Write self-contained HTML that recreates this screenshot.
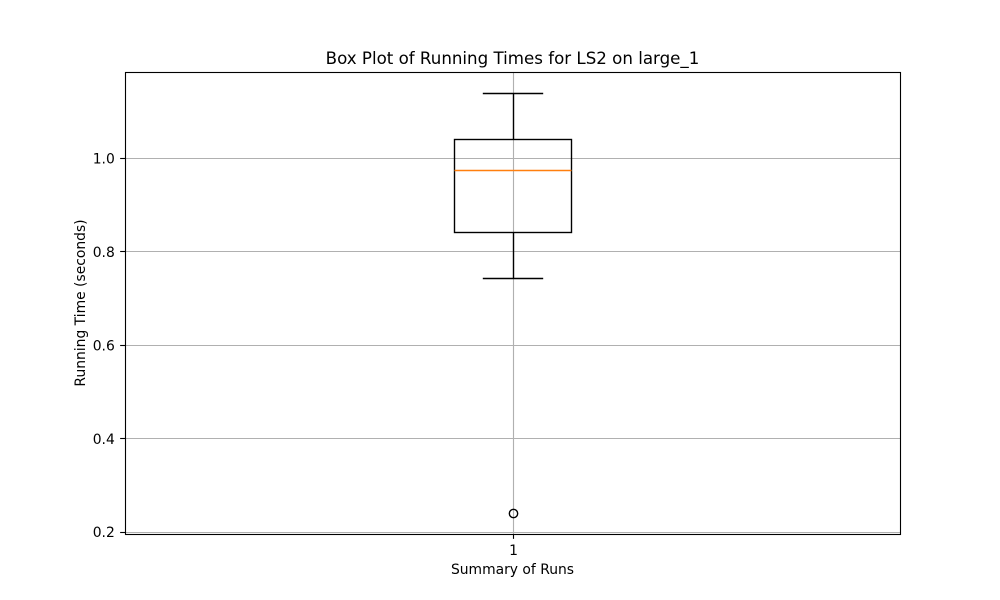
<!DOCTYPE html>
<html>
<head>
<meta charset="utf-8">
<title>Box Plot of Running Times for LS2 on large_1</title>
<style>
html,body{margin:0;padding:0;background:#fff;width:1000px;height:600px;overflow:hidden}
svg{display:block}
text{font-family:"DejaVu Sans","Liberation Sans",sans-serif;fill:#000}
</style>
</head>
<body>
<svg id="chart" xmlns="http://www.w3.org/2000/svg" width="1000" height="600" viewBox="0 0 1000 600">
<rect x="0" y="0" width="1000" height="600" fill="#fff"/>
<text x="512.5" y="64" font-size="16.67" text-anchor="middle">Box Plot of Running Times for LS2 on large_1</text>
<text x="512.5" y="574" font-size="13.89" text-anchor="middle">Summary of Runs</text>
<text x="0" y="0" font-size="13.89" text-anchor="middle" transform="translate(85 303) rotate(-90)">Running Time (seconds)</text>
<g id="plot"></g>
</svg>
<script>
const categories = ["1"];
const whiskerLow = [0.744];
const q1 = [0.842];
const median = [0.974];
const q3 = [1.04];
const whiskerHigh = [1.139];
const fliers = [0.24];
const yTicks = [0.2, 0.4, 0.6, 0.8, 1.0];
const yTickLabels = ["0.2", "0.4", "0.6", "0.8", "1.0"];

const L = 125, R = 900, T = 72, B = 534;
const lo = Math.min(...fliers, ...whiskerLow);
const hi = Math.max(...fliers, ...whiskerHigh);
const pad = (hi - lo) * 0.05;
const yMin = lo - pad, yMax = hi + pad;
function xScale(v){ return L + (v - 0.5) / 1 * (R - L); }
function yScale(v){ return B - (v - yMin) / (yMax - yMin) * (B - T); }
function snap(p){ return Math.round(p) + 0.5; }

const plot = document.getElementById('plot');
const NS = 'http://www.w3.org/2000/svg';
function mk(tag, attrs, parent){
  const el = document.createElementNS(NS, tag);
  for (const k in attrs) el.setAttribute(k, attrs[k]);
  (parent || plot).appendChild(el);
  return el;
}
function line(x1, y1, x2, y2, color, width){
  return mk('line', {x1:x1, y1:y1, x2:x2, y2:y2, stroke:color, 'stroke-width':width});
}

const bg = mk('rect', {x:L, y:T, width:R-L, height:B-T, fill:'#fff'});



yTicks.forEach(function(t, i){
  const y = snap(yScale(t));
  const g = line(L, y, R, y, '#b0b0b0', 1.11);
  
  
  const m = line(L - 4.86, y, L, y, '#000', 1.11);
  
  
  const lb = mk('text', {x:L - 10.2, y:yScale(t) + 5.5, 'font-size':13.89, 'text-anchor':'end'});
  lb.textContent = yTickLabels[i];
  
  
});

categories.forEach(function(c, i){
  const pos = i + 1;
  const cx = snap(xScale(pos));
  const grid = line(cx, T, cx, B, '#b0b0b0', 1.11);
  
  
  const tick = line(cx, B, cx, B + 4.86, '#000', 1.11);
  
  
  const lb = mk('text', {x:cx, y:555, 'font-size':13.89, 'text-anchor':'middle'});
  lb.textContent = c;
  
  

  const bx1 = snap(xScale(pos - 0.075)), bx2 = snap(xScale(pos + 0.075));
  const cx1 = snap(xScale(pos - 0.0375)), cx2 = snap(xScale(pos + 0.0375));
  const yQ1 = snap(yScale(q1[i])), yQ3 = snap(yScale(q3[i]));
  const yMed = snap(yScale(median[i]));
  const yWL = snap(yScale(whiskerLow[i])), yWH = snap(yScale(whiskerHigh[i]));

  const wl = line(cx, yQ1, cx, yWL, '#000', 1.39);
  
  
  const wh = line(cx, yQ3, cx, yWH, '#000', 1.39);
  
  
  const cl = line(cx1, yWL, cx2, yWL, '#000', 1.39);
  cl.setAttribute('stroke-linecap', 'square');
  
  
  const ch = line(cx1, yWH, cx2, yWH, '#000', 1.39);
  ch.setAttribute('stroke-linecap', 'square');
  
  
  const box = mk('rect', {x:bx1, y:yQ3, width:bx2-bx1, height:yQ1-yQ3, fill:'none', stroke:'#000', 'stroke-width':1.39});
  
  
  const med = line(bx1, yMed, bx2, yMed, '#ff7f0e', 1.39);
  
  

  fliers.forEach(function(f){
    const o = mk('circle', {cx:cx, cy:yScale(f) + 0.5, r:4.17, fill:'none', stroke:'#000', 'stroke-width':1.39});
    
    
  });
});

const frame = mk('rect', {x:L + 0.5, y:T + 0.5, width:R-L, height:B-T, fill:'none', stroke:'#000', 'stroke-width':1.11});


</script>
</body>
</html>
